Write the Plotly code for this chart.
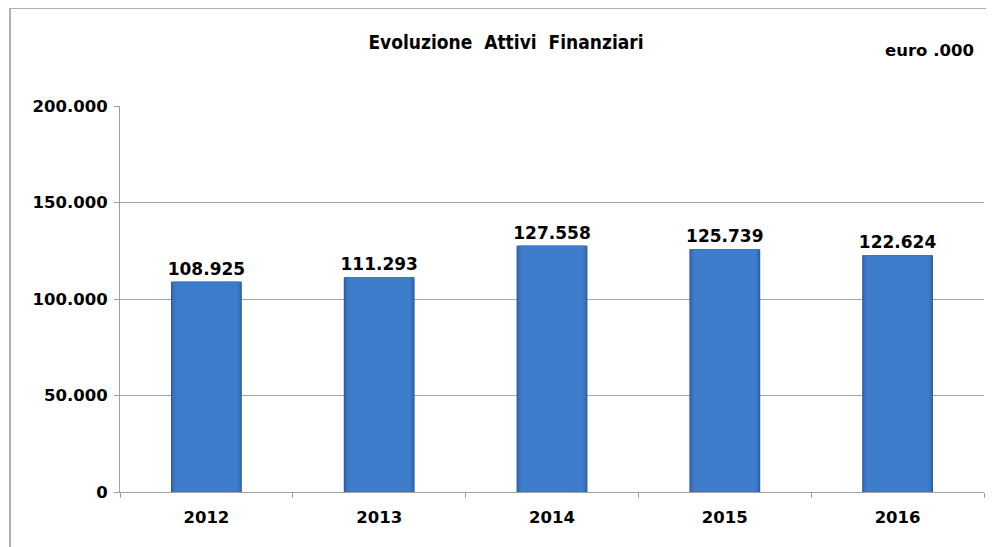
import plotly.graph_objects as go

# Evoluzione attivi finanziari (euro .000)
years = ["2012", "2013", "2014", "2015", "2016"]
attivi = [108925, 111293, 127558, 125739, 122624]
y_ticks = [0, 50000, 100000, 150000, 200000]

# shading layers: thin darker rim, flat lighter face
layer_widths = [0.41, 0.40, 0.385, 0.36]
layer_colors = ["#2c5a98", "#3569b0", "#3a74c2", "#3e7ccc"]

fig = go.Figure()
for i, (w, c) in enumerate(zip(layer_widths, layer_colors)):
    last = i == len(layer_widths) - 1
    fig.add_trace(go.Bar(
        x=years,
        y=attivi,
        width=w,
        marker=dict(color=c, line=dict(width=0)),
        text=[f"{v:,}".replace(",", ".") for v in attivi] if last else None,
        textposition="outside" if last else "none",
        constraintext="none",
        textfont=dict(family="DejaVu Sans", size=17, color="#000000", weight="bold"),
        cliponaxis=False,
        hoverinfo="x+y",
        showlegend=False,
    ))

label_font = dict(family="DejaVu Sans", size=16.5, color="#000000", weight="bold")

# the page puts the figure 8px in from the top-left corner
fig.update_layout(
    width=986,
    height=539,
    barmode="overlay",
    separators=",.",
    paper_bgcolor="white",
    plot_bgcolor="white",
    margin=dict(l=112, r=10, t=98, b=55),
    title=dict(
        text="<b>Evoluzione  Attivi  Finanziari</b>",
        x=(506 - 8) / 986, xanchor="center",
        y=1 - (42 - 8) / 539, yanchor="middle",
        font=dict(family="DejaVu Sans Condensed, DejaVu Sans", size=19, color="#000000"),
    ),
    xaxis=dict(
        type="category",
        tickfont=label_font,
        showline=True, linecolor="#a0a0a0", linewidth=1,
        ticks="outside", tickson="boundaries", ticklen=5, tickcolor="#a0a0a0",
        ticklabelstandoff=10,
        showgrid=False,
    ),
    yaxis=dict(
        range=[0, 200000],
        tickvals=y_ticks,
        tickformat=",.0f",
        tickfont=label_font,
        showline=True, linecolor="#a0a0a0", linewidth=1,
        ticks="outside", ticklen=5, tickcolor="#a0a0a0",
        ticklabelstandoff=3,
        showgrid=True, gridcolor="#a6a6a6", gridwidth=1,
        zeroline=False,
    ),
    annotations=[dict(
        text="<b>euro .000</b>",
        xref="paper", yref="paper",
        x=(976 - 120) / 864, xanchor="right",
        y=(492 - 51) / 386, yanchor="middle",
        showarrow=False,
        font=dict(family="DejaVu Sans", size=16.5, color="#000000"),
    )],
    shapes=[
        # chart frame (top and left edges visible)
        dict(type="line", xref="paper", yref="paper",
             x0=(10 - 120) / 864, x1=1.02, y0=(492 - 8) / 386, y1=(492 - 8) / 386,
             line=dict(color="#b0b0b0", width=2)),
        dict(type="line", xref="paper", yref="paper",
             x0=(10 - 120) / 864, x1=(10 - 120) / 864, y0=(492 - 8) / 386, y1=-0.15,
             line=dict(color="#b0b0b0", width=2)),
    ],
)

fig.write_html("out.html")
